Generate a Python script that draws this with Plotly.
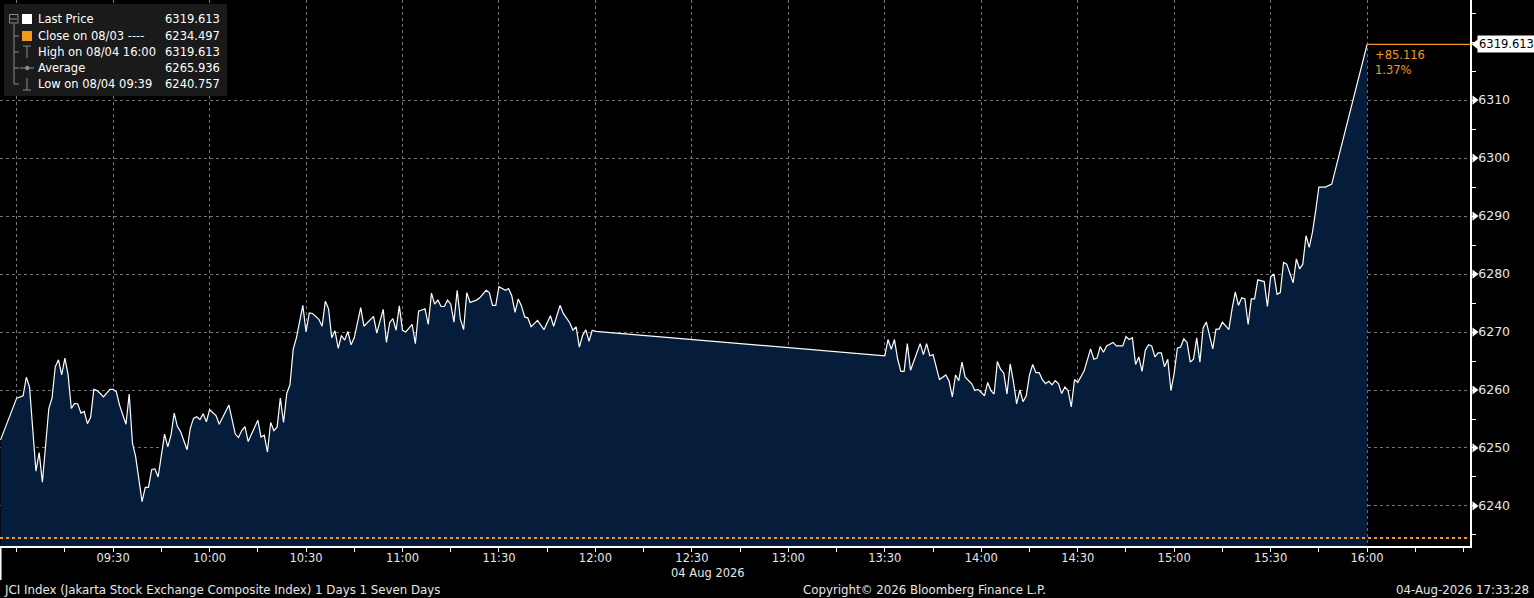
"""
JCI Index intraday chart, 04 Aug 2026 (terminal style)
"""

import pandas as pd
import plotly.graph_objects as go

# ── data ──────────────────────────────────────────────────────────────────────
DAY = "2026-08-04"

am_times = [
    "08:55", "09:00", "09:02", "09:03", "09:04", "09:06", "09:07", "09:08", "09:10", "09:11",
    "09:12", "09:13", "09:14", "09:15", "09:16", "09:17", "09:18", "09:19", "09:20", "09:21",
    "09:22", "09:23", "09:24", "09:25", "09:26", "09:27", "09:29", "09:30", "09:31", "09:32",
    "09:34", "09:35", "09:36", "09:37", "09:39", "09:40", "09:41", "09:42", "09:43", "09:44",
    "09:46", "09:47", "09:48", "09:49", "09:50", "09:51", "09:53", "09:54", "09:55", "09:56",
    "09:57", "09:58", "09:59", "10:00", "10:02", "10:03", "10:06", "10:08", "10:09", "10:10",
    "10:11", "10:12", "10:15", "10:16", "10:17", "10:18", "10:19", "10:20", "10:21", "10:22",
    "10:23", "10:24", "10:25", "10:26", "10:27", "10:29", "10:30", "10:31", "10:32", "10:34",
    "10:35", "10:36", "10:37", "10:38", "10:39", "10:40", "10:41", "10:42", "10:43", "10:44",
    "10:45", "10:47", "10:48", "10:51", "10:52", "10:54", "10:55", "10:56", "10:57", "10:58",
    "10:59", "11:00", "11:01", "11:03", "11:04", "11:05", "11:07", "11:08", "11:09", "11:10",
    "11:11", "11:12", "11:13", "11:14", "11:15", "11:16", "11:17", "11:18", "11:19", "11:20",
    "11:21", "11:23", "11:24", "11:25", "11:26", "11:27", "11:28", "11:29", "11:30", "11:31",
    "11:32", "11:33", "11:34", "11:35", "11:36", "11:37", "11:38", "11:39", "11:40", "11:42",
    "11:43", "11:44", "11:46", "11:47", "11:49", "11:50", "11:52", "11:53", "11:54", "11:55",
    "11:56", "11:57", "11:58", "11:59", "12:00",
]
am_prices = [
    6251.4, 6258.6, 6259.0, 6262.2, 6260.5, 6246.0, 6249.2, 6244.1, 6256.8, 6258.6,
    6264.0, 6265.2, 6262.6, 6265.5, 6262.6, 6256.8, 6257.7, 6257.6, 6256.0, 6256.3,
    6254.2, 6255.3, 6260.1, 6259.9, 6259.4, 6258.8, 6260.1, 6260.1, 6259.7, 6257.4,
    6254.1, 6259.3, 6250.9, 6248.5, 6240.757, 6243.2, 6243.2, 6246.3, 6246.4, 6245.0,
    6252.4, 6250.2, 6252.2, 6256.0, 6253.7, 6252.8, 6249.7, 6253.4, 6255.1, 6255.4,
    6254.9, 6255.9, 6254.5, 6256.6, 6255.6, 6254.1, 6257.4, 6252.4, 6251.8, 6253.0,
    6253.7, 6251.1, 6254.8, 6251.9, 6252.2, 6249.3, 6254.4, 6253.0, 6253.6, 6258.6,
    6254.4, 6259.4, 6260.9, 6267.0, 6269.0, 6274.6, 6270.0, 6273.3, 6273.2, 6272.2,
    6271.0, 6275.3, 6274.0, 6269.0, 6270.2, 6267.2, 6269.4, 6268.6, 6270.1, 6267.8,
    6269.0, 6274.2, 6271.0, 6272.7, 6269.8, 6273.9, 6268.2, 6271.6, 6272.3, 6270.3,
    6274.5, 6270.3, 6270.0, 6271.3, 6268.0, 6273.6, 6274.0, 6271.3, 6276.7, 6274.8,
    6275.5, 6274.4, 6274.4, 6275.5, 6274.8, 6271.7, 6277.2, 6272.2, 6270.4, 6276.8,
    6275.1, 6275.5, 6275.9, 6276.5, 6277.2, 6276.8, 6274.6, 6274.6, 6277.8, 6277.5,
    6277.2, 6277.5, 6276.2, 6273.4, 6275.7, 6274.5, 6272.6, 6272.4, 6270.9, 6272.0,
    6271.3, 6270.4, 6272.8, 6271.0, 6274.6, 6273.2, 6271.6, 6270.3, 6270.9, 6267.4,
    6269.4, 6270.4, 6268.4, 6270.3, 6270.1,
]

pm_times = [
    "13:30", "13:31", "13:32", "13:33", "13:34", "13:35", "13:36", "13:37", "13:38", "13:41",
    "13:42", "13:43", "13:44", "13:45", "13:47", "13:48", "13:49", "13:50", "13:51", "13:52",
    "13:53", "13:54", "13:55", "13:57", "13:58", "13:59", "14:00", "14:01", "14:02", "14:03",
    "14:04", "14:05", "14:06", "14:07", "14:08", "14:09", "14:10", "14:11", "14:12", "14:13",
    "14:14", "14:15", "14:16", "14:17", "14:18", "14:19", "14:20", "14:21", "14:22", "14:23",
    "14:24", "14:25", "14:26", "14:27", "14:28", "14:29", "14:30", "14:32", "14:34", "14:35",
    "14:36", "14:37", "14:38", "14:39", "14:41", "14:42", "14:44", "14:45", "14:46", "14:47",
    "14:48", "14:49", "14:50", "14:51", "14:52", "14:53", "14:54", "14:55", "14:56", "14:57",
    "14:58", "14:59", "15:00", "15:01", "15:02", "15:03", "15:04", "15:05", "15:06", "15:07",
    "15:08", "15:09", "15:10", "15:11", "15:12", "15:13", "15:14", "15:15", "15:17", "15:18",
    "15:19", "15:20", "15:21", "15:22", "15:23", "15:24", "15:25", "15:26", "15:28", "15:29",
    "15:30", "15:31", "15:32", "15:33", "15:34", "15:35", "15:36", "15:37", "15:38", "15:39",
    "15:40", "15:41", "15:42", "15:43", "15:44", "15:45", "15:47", "15:49", "16:00",
]
pm_prices = [
    6265.9, 6268.7, 6267.0, 6268.7, 6265.3, 6263.2, 6263.2, 6268.0, 6263.4, 6268.0,
    6266.1, 6268.0, 6265.9, 6266.1, 6261.8, 6262.2, 6262.6, 6261.5, 6258.8, 6262.6,
    6261.6, 6264.8, 6262.2, 6261.1, 6259.9, 6260.1, 6259.5, 6259.0, 6261.3, 6259.9,
    6259.3, 6264.9, 6263.6, 6262.9, 6259.3, 6264.5, 6261.5, 6257.6, 6260.0, 6258.0,
    6259.0, 6262.6, 6264.4, 6263.0, 6263.0, 6261.8, 6261.1, 6261.5, 6260.9, 6261.6,
    6261.1, 6259.4, 6260.5, 6259.9, 6257.1, 6261.8, 6261.3, 6263.3, 6267.1, 6265.3,
    6265.5, 6267.5, 6266.5, 6267.6, 6268.2, 6267.6, 6267.6, 6269.2, 6268.7, 6269.0,
    6264.4, 6265.7, 6263.2, 6266.8, 6267.8, 6267.6, 6265.7, 6266.4, 6266.4, 6264.0,
    6265.3, 6259.9, 6262.9, 6267.2, 6267.4, 6268.8, 6268.2, 6264.8, 6265.3, 6269.0,
    6264.8, 6270.7, 6271.7, 6269.2, 6267.1, 6270.5, 6270.5, 6271.7, 6270.4, 6274.0,
    6276.9, 6274.6, 6275.9, 6275.7, 6271.3, 6275.7, 6275.7, 6279.0, 6278.7, 6274.4,
    6279.5, 6280.0, 6276.5, 6276.8, 6282.0, 6281.7, 6280.0, 6278.5, 6282.6, 6280.9,
    6281.7, 6286.6, 6284.6, 6287.2, 6290.9, 6295.0, 6295.0, 6295.5, 6319.613,
]

prev_close   = 6234.497
last_price   = 6319.613
high_label   = "High on 08/04 16:00"
high_value   = 6319.613
avg_value    = 6265.936
low_label    = "Low on 08/04 09:39"
low_value    = 6240.757
close_label  = "Close on 08/03 ----"

y_ticks   = [6240, 6250, 6260, 6270, 6280, 6290, 6300, 6310]
x_ticks   = ["09:00", "09:30", "10:00", "10:30", "11:00", "11:30", "12:00", "12:30",
             "13:00", "13:30", "14:00", "14:30", "15:00", "15:30", "16:00"]
x_start, x_end = "08:54:49", "16:32:00"
y_range   = [6233.1, 6327.25]

footer_left   = "JCI Index (Jakarta Stock Exchange Composite Index) 1 Days 1 Seven Days"
footer_center = "Copyright\u00a9 2026 Bloomberg Finance L.P."
footer_right  = "04-Aug-2026 17:33:28"
date_label    = "04 Aug 2026"

# ── frame ─────────────────────────────────────────────────────────────────────
ts = pd.to_datetime([f"{DAY} {t}" for t in am_times + pm_times])
px_ = am_prices + pm_prices
t_end = pd.Timestamp(f"{DAY} {x_end}")

W, H = 1534, 598
PW, PH = 1470, 546          # main plot area in pixels (left/top at 0)
ORANGE = "#f39a1e"
FILL = "#051d3a"
GRID = "#767676"
TXT = "#e6e6e6"
FONT = "DejaVu Sans"


def pxx(x):   # pixel -> paper x
    return x / W


def pxy(y):   # pixel -> paper y
    return 1 - y / PH


fig = go.Figure()

fig.add_trace(go.Scatter(
    x=ts, y=px_,
    mode="lines",
    line=dict(color="white", width=1.2),
    fill="tozeroy",
    fillcolor=FILL,
    hoverinfo="x+y",
    showlegend=False,
))

# strip right of the y axis (x2/y2, pixel units): tick arrows + last price flag pointer
fig.add_trace(go.Scatter(
    x=[4.5] * len(y_ticks), y=y_ticks, xaxis="x2", yaxis="y2",
    mode="markers",
    marker=dict(symbol="triangle-right", size=8, color="white", line=dict(width=0)),
    hoverinfo="skip", showlegend=False,
))
fig.add_trace(go.Scatter(
    x=[6.5], y=[last_price], xaxis="x2", yaxis="y2",
    mode="markers",
    marker=dict(symbol="triangle-left", size=10, color="white", line=dict(width=0)),
    hoverinfo="skip", showlegend=False,
))

shapes = []
# previous close (dotted orange)
shapes.append(dict(type="line", xref="x domain", yref="y", x0=0, x1=1,
                   y0=prev_close, y1=prev_close,
                   line=dict(color=ORANGE, width=2, dash="dot")))
# last price line to axis
shapes.append(dict(type="line", xref="x", yref="y",
                   x0=ts[-1], x1=t_end,
                   y0=last_price, y1=last_price,
                   line=dict(color=ORANGE, width=1.3)))
# separator under x axis at left edge
shapes.append(dict(type="line", xref="paper", yref="paper", x0=0.0005, x1=0.0005,
                   y0=pxy(PH), y1=pxy(PH + 34), line=dict(color="white", width=1.5)))

# ── legend box (drawn by hand) ───────────────────────────────────────────────
shapes.append(dict(type="rect", xref="paper", yref="paper",
                   x0=pxx(4), x1=pxx(227), y0=pxy(96), y1=pxy(4),
                   fillcolor="#1a1a1a", line=dict(width=0), layer="above"))
rows_y = [19, 36, 52, 68, 84]
TREE = "#8a8a8a"
tree_lines = [
    (14, 24, 14, 84),                       # trunk
    (14, 36, 19, 36), (14, 84, 19, 84),     # stubs
    (14, 52, 19, 52), (14, 68, 19, 68),
    (10, 19, 17, 19),                       # minus in box
    (23, 46, 31, 46), (27, 46, 27, 58),     # high marker
    (20, 68, 34, 68),                       # average marker
    (27, 78, 27, 90), (23, 90, 31, 90),     # low marker
]
for x0, y0, x1, y1 in tree_lines:
    shapes.append(dict(type="line", xref="paper", yref="paper",
                       x0=pxx(x0), x1=pxx(x1), y0=pxy(y0), y1=pxy(y1),
                       line=dict(color=TREE, width=1), layer="above"))
shapes.append(dict(type="rect", xref="paper", yref="paper",
                   x0=pxx(9.5), x1=pxx(18), y0=pxy(23), y1=pxy(14.5),
                   line=dict(color=TREE, width=1), layer="above"))
shapes.append(dict(type="circle", xref="paper", yref="paper",
                   x0=pxx(25), x1=pxx(29.5), y0=pxy(70.2), y1=pxy(65.8),
                   fillcolor=TREE, line=dict(width=0), layer="above"))
shapes.append(dict(type="rect", xref="paper", yref="paper",
                   x0=pxx(22), x1=pxx(32), y0=pxy(24), y1=pxy(14),
                   fillcolor="white", line=dict(width=0), layer="above"))
shapes.append(dict(type="rect", xref="paper", yref="paper",
                   x0=pxx(22), x1=pxx(32), y0=pxy(41), y1=pxy(31),
                   fillcolor=ORANGE, line=dict(width=0), layer="above"))

legend_labels = ["Last Price", close_label, high_label, "Average", low_label]
legend_values = [last_price, prev_close, high_value, avg_value, low_value]

annotations = []
for yy, lab, val in zip(rows_y, legend_labels, legend_values):
    annotations.append(dict(xref="paper", yref="paper", x=pxx(36), y=pxy(yy),
                            text=lab, showarrow=False, xanchor="left", yanchor="middle",
                            font=dict(family=FONT, size=11.5, color="white")))
    annotations.append(dict(xref="paper", yref="paper", x=pxx(222), y=pxy(yy),
                            text=f"{val:.3f}", showarrow=False, xanchor="right", yanchor="middle",
                            font=dict(family=FONT, size=11.5, color="white")))

# last price flag + change
annotations.append(dict(xref="paper", yref="y", x=pxx(PW + 7), y=last_price,
                        text=f"{last_price:.3f}", showarrow=False,
                        xanchor="left", yanchor="middle", bgcolor="white",
                        borderpad=1,
                        font=dict(family=FONT, size=11.5, color="black")))
chg = last_price - prev_close
pct = chg / prev_close * 100
annotations.append(dict(xref="x", yref="y", x=ts[-1], y=last_price,
                        text=f"+{chg:.3f}<br>{pct:.2f}%", showarrow=False,
                        xanchor="left", yanchor="top", xshift=6, yshift=-2, align="left",
                        font=dict(family=FONT, size=11.5, color=ORANGE)))

# date under axis + footer
annotations.append(dict(xref="paper", yref="paper", x=pxx(708), y=pxy(573),
                        text=date_label, showarrow=False, xanchor="center", yanchor="middle",
                        font=dict(family=FONT, size=11.5, color=TXT)))
annotations.append(dict(xref="paper", yref="paper", x=pxx(2), y=pxy(590),
                        text=footer_left, showarrow=False, xanchor="left", yanchor="middle",
                        font=dict(family=FONT, size=11.8, color=TXT)))
annotations.append(dict(xref="paper", yref="paper", x=pxx(924), y=pxy(590),
                        text=footer_center, showarrow=False, xanchor="center", yanchor="middle",
                        font=dict(family=FONT, size=11.8, color=TXT)))
annotations.append(dict(xref="paper", yref="paper", x=pxx(W - 3), y=pxy(590),
                        text=footer_right, showarrow=False, xanchor="right", yanchor="middle",
                        font=dict(family=FONT, size=11.8, color=TXT)))

# ── layout ────────────────────────────────────────────────────────────────────
x_tickvals = pd.to_datetime([f"{DAY} {t}" for t in x_ticks])
x_ticktext = ["" if t == x_ticks[0] else t for t in x_ticks]

fig.update_layout(
    width=W, height=H,
    margin=dict(l=0, r=0, t=0, b=H - PH, autoexpand=False),
    paper_bgcolor="black",
    plot_bgcolor="black",
    shapes=shapes,
    annotations=annotations,
    showlegend=False,
    font=dict(family=FONT, size=11.5, color=TXT),
    xaxis=dict(
        domain=[0, PW / W],
        anchor="y",
        range=[pd.Timestamp(f"{DAY} {x_start}"), t_end],
        tickmode="array", tickvals=x_tickvals, ticktext=x_ticktext,
        ticks="outside", ticklen=4, tickcolor="white", tickwidth=1,
        ticklabelstandoff=-4,
        minor=dict(dtick=15 * 60 * 1000, tick0=f"{DAY} 09:00", ticks="outside",
                   ticklen=4, tickcolor="white", showgrid=False),
        showgrid=True, gridcolor=GRID, griddash="3px,3px", gridwidth=1,
        showline=True, linecolor="white", linewidth=1.5,
        zeroline=False,
        tickfont=dict(family=FONT, size=11.5, color=TXT),
    ),
    yaxis=dict(
        anchor="x",
        side="right",
        range=y_range,
        tickmode="array", tickvals=y_ticks, ticktext=[str(v) for v in y_ticks],
        ticks="", ticklabelstandoff=4,
        minor=dict(dtick=5, tick0=6235, ticks="outside", ticklen=4, tickcolor="white",
                   showgrid=False),
        showgrid=True, gridcolor=GRID, griddash="3px,3px", gridwidth=1,
        showline=True, linecolor="white", linewidth=1.5,
        zeroline=False,
        tickfont=dict(family=FONT, size=12.5, color=TXT),
    ),
    xaxis2=dict(domain=[PW / W, 1], range=[0, W - PW], visible=False,
                anchor="y2", fixedrange=True),
    yaxis2=dict(domain=[0, 1], matches="y", anchor="x2", visible=False),
)

# page has a default 8px body margin; drop it so the chart sits at the corner
fig.write_html("out.html", config={"displayModeBar": False},
               post_script="document.body.style.margin='0px';")
